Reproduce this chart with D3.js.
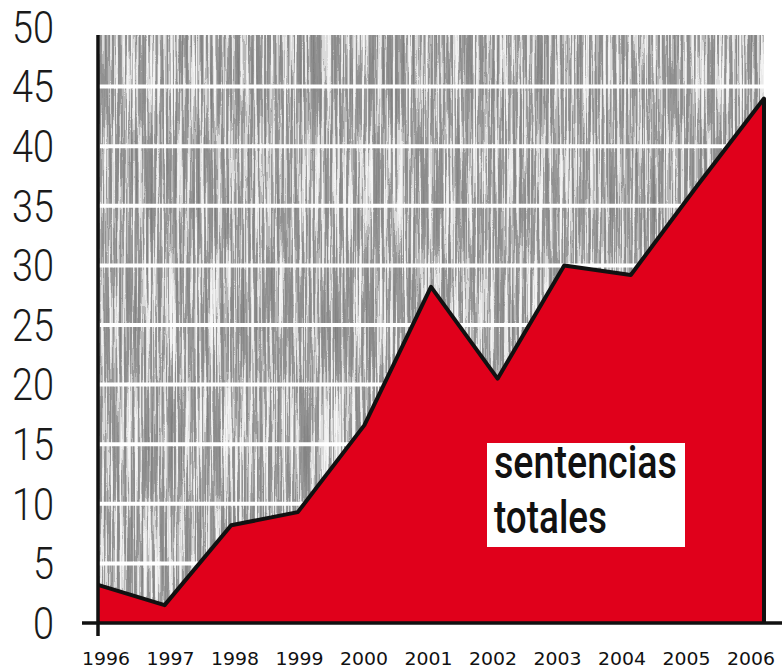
<!DOCTYPE html>
<html>
<head>
<meta charset="utf-8">
<script src="https://cdn.jsdelivr.net/npm/d3@7"></script>
<style>
  body { margin: 0; background: #fff; }
  svg { display: block; }
</style>
</head>
<body>
<div id="chart"></div>
<script>
const years = [1996, 1997, 1998, 1999, 2000, 2001, 2002, 2003, 2004, 2005, 2006];
const sentencias = [3.2, 1.5, 8.2, 9.3, 16.6, 28.2, 20.5, 30.0, 29.2, 36.7, 44.0];
const yTicks = [0, 5, 10, 15, 20, 25, 30, 35, 40, 45, 50];
const gridTicks = [5, 10, 15, 20, 25, 30, 35, 40, 45];
const labelLines = ['sentencias', 'totales'];

const width = 782, height = 669;
const plotLeft = 98, plotRight = 764, plotTop = 35;

const x = d3.scalePoint().domain(years).range([plotLeft, plotRight]);
const xLabels = d3.scalePoint().domain(years).range([106, 751]);
const y = d3.scaleLinear().domain([0, 50]).range([623, 27]);

const svg = d3.select('#chart').append('svg')
  .attr('width', width)
  .attr('height', height);

// wood grain background texture
const defs = svg.append('defs');
const f = defs.append('filter').attr('id', 'wood')
  .attr('filterUnits', 'userSpaceOnUse')
  .attr('color-interpolation-filters', 'sRGB')
  .attr('x', plotLeft).attr('y', plotTop)
  .attr('width', plotRight - plotLeft).attr('height', y(0) - plotTop);
f.append('feTurbulence')
  .attr('type', 'fractalNoise')
  .attr('baseFrequency', '0.45 0.008')
  .attr('numOctaves', 4)
  .attr('seed', 7)
  .attr('result', 'n');
f.append('feColorMatrix')
  .attr('in', 'n')
  .attr('type', 'matrix')
  .attr('values', '1 0 0 0 0  1 0 0 0 0  1 0 0 0 0  0 0 0 0 1')
  .attr('result', 'g');
const ct = f.append('feComponentTransfer').attr('in', 'g');
['feFuncR', 'feFuncG', 'feFuncB'].forEach(fn => {
  ct.append(fn).attr('type', 'discrete')
    .attr('tableValues', '0.5 0.5 0.5 0.52 0.54 0.55 0.57 0.6 0.72 0.86 0.92 0.95 0.96 0.97 0.97 0.97');
});

svg.append('rect')
  .attr('x', plotLeft)
  .attr('y', plotTop)
  .attr('width', plotRight - plotLeft)
  .attr('height', y(0) - plotTop)
  .attr('fill', '#8e8e8e')
  .attr('filter', 'url(#wood)');

// white horizontal gridlines
svg.selectAll('.grid')
  .data(gridTicks)
  .enter()
  .append('line')
  .attr('x1', plotLeft)
  .attr('x2', plotRight)
  .attr('y1', d => y(d))
  .attr('y2', d => y(d))
  .attr('stroke', '#fff')
  .attr('stroke-width', 4);

// red area
const area = d3.area()
  .x((d, i) => x(years[i]))
  .y0(y(0))
  .y1(d => y(d));

svg.append('path')
  .datum(sentencias)
  .attr('d', area)
  .attr('fill', '#e0001b');

// black outline along the top and down the right side
const line = d3.line()
  .x(d => d[0])
  .y(d => d[1]);
const outline = sentencias.map((d, i) => [x(years[i]), y(d)]);
outline.push([x(years[years.length - 1]), y(0)]);

svg.append('path')
  .datum(outline)
  .attr('d', line)
  .attr('fill', 'none')
  .attr('stroke', '#111')
  .attr('stroke-width', 4)
  .attr('stroke-linejoin', 'round');

// axes
svg.append('line')
  .attr('x1', plotLeft).attr('x2', plotLeft)
  .attr('y1', plotTop).attr('y2', y(0) + 13)
  .attr('stroke', '#111').attr('stroke-width', 3.5);
svg.append('line')
  .attr('x1', 82).attr('x2', width)
  .attr('y1', y(0)).attr('y2', y(0))
  .attr('stroke', '#111').attr('stroke-width', 3.5);

// y labels
svg.selectAll('.ylab')
  .data(yTicks)
  .enter()
  .append('text')
  .attr('x', 54)
  .attr('y', d => y(d))
  .attr('dy', '0.36em')
  .attr('text-anchor', 'end')
  .attr('textLength', d => String(d).length * 21)
  .attr('lengthAdjust', 'spacingAndGlyphs')
  .style('font-family', 'Roboto, "Liberation Sans", sans-serif')
  .style('font-weight', 300)
  .style('font-size', '44px')
  .style('fill', '#1a1a1a')
  .text(d => d);

// x labels
svg.selectAll('.xlab')
  .data(years)
  .enter()
  .append('text')
  .attr('x', d => xLabels(d))
  .attr('y', 665)
  .attr('text-anchor', 'middle')
  .attr('textLength', 48)
  .attr('lengthAdjust', 'spacingAndGlyphs')
  .style('font-family', '"DejaVu Sans", sans-serif')
  .style('font-size', '18px')
  .style('fill', '#111')
  .text(d => d);

// label box
svg.append('rect')
  .attr('x', 487).attr('y', 443)
  .attr('width', 198).attr('height', 104)
  .attr('fill', '#fff');

svg.selectAll('.boxlab')
  .data(labelLines)
  .enter()
  .append('text')
  .attr('x', 494)
  .attr('y', (d, i) => 478 + i * 55)
  .attr('textLength', (d, i) => i === 0 ? 183 : 113)
  .attr('lengthAdjust', 'spacingAndGlyphs')
  .style('font-family', 'Roboto, "Liberation Sans", sans-serif')
  .style('font-weight', 500)
  .style('font-size', '46px')
  .style('fill', '#111')
  .text(d => d);
</script>
</body>
</html>
